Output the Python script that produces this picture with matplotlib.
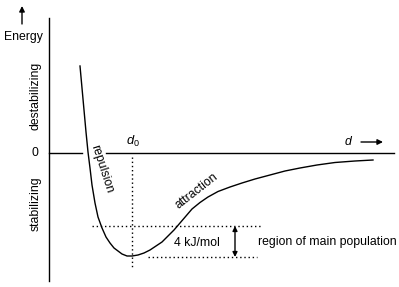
import matplotlib
matplotlib.use("Agg")
import matplotlib.pyplot as plt

plt.rcParams['font.family'] = ['Liberation Sans', 'DejaVu Sans']
plt.rcParams['mathtext.fontset'] = 'custom'
plt.rcParams['mathtext.rm'] = 'Liberation Sans'
plt.rcParams['mathtext.it'] = 'Liberation Sans:italic'

# potential curve (x to the right, y downwards)
curve_x = [80, 82, 84, 86, 88, 90, 92, 95, 98, 102, 106, 110, 114, 118, 122,
           127, 132, 138, 144, 150, 156, 162, 168, 174, 180, 186, 192, 200,
           208, 218, 230, 242, 255, 270, 285, 300, 317, 335, 355, 373]
curve_y = [66, 88, 110, 132, 152, 168, 185, 203, 217, 228, 237, 243, 248, 251,
           254, 256, 256, 255, 253, 250, 246, 242, 236, 230, 223, 216, 209,
           202.5, 197, 191.5, 187, 183, 179, 175, 171, 168, 165, 162.5, 161, 160]

zero_y = 153
d0_x = 132
upper_y = 226
lower_y = 257
fs = 8.8

fig = plt.figure(figsize=(3.99, 2.87), dpi=100)
ax = fig.add_axes([0, 0, 1, 1])
ax.set_xlim(0, 399)
ax.set_ylim(287, 0)
ax.axis('off')

# energy axis
ax.plot([49, 49], [18, 281], color='black', lw=1)
ax.annotate('', xy=(22, 6), xytext=(22, 24),
            arrowprops=dict(arrowstyle='-|>', color='black', lw=1,
                            mutation_scale=8, shrinkA=0, shrinkB=0))
ax.text(23, 37, 'Energy', ha='center', va='center', fontsize=fs)
ax.text(36, 96, 'destabilizing', rotation=90, ha='center', va='center', fontsize=fs)
ax.text(35, 153, '0', ha='center', va='center', fontsize=fs)
ax.text(36, 204, 'stabilizing', rotation=90, ha='center', va='center', fontsize=fs)

# zero line
ax.plot([49, 82], [zero_y, zero_y], color='black', lw=1)
ax.plot([106, 394], [zero_y, zero_y], color='black', lw=1)
ax.text(348, 142, 'd', style='italic', ha='center', va='center', fontsize=fs)
ax.annotate('', xy=(383, 142), xytext=(361, 142),
            arrowprops=dict(arrowstyle='-|>', color='black', lw=1,
                            mutation_scale=8, shrinkA=0, shrinkB=0))
ax.text(133, 141, r'$d_{\mathit{0}}$', ha='center', va='center', fontsize=fs + 0.5)

# curve
ax.plot(curve_x, curve_y, color='black', lw=1)

# dotted guides
ax.plot([d0_x, d0_x], [zero_y + 4, 269], color='black', lw=1, ls=(0, (1, 2)))
ax.plot([92, 262], [upper_y, upper_y], color='black', lw=1, ls=(0, (1, 2)))
ax.plot([148, 257], [lower_y, lower_y], color='black', lw=1, ls=(0, (1, 2)))
ax.annotate('', xy=(235, upper_y), xytext=(235, lower_y),
            arrowprops=dict(arrowstyle='<|-|>', color='black', lw=1,
                            mutation_scale=7, shrinkA=0, shrinkB=0))

ax.text(197, 243, '4 kJ/mol', ha='center', va='center', fontsize=fs)
ax.text(258, 242, 'region of main population', ha='left', va='center', fontsize=fs)
ax.text(102, 169, 'repulsion', rotation=-72, ha='center', va='center',
        rotation_mode='anchor', fontsize=fs)
ax.text(197, 191, 'attraction', rotation=38, ha='center', va='center',
        rotation_mode='anchor', fontsize=fs)

fig.savefig('out.png', dpi=100)
